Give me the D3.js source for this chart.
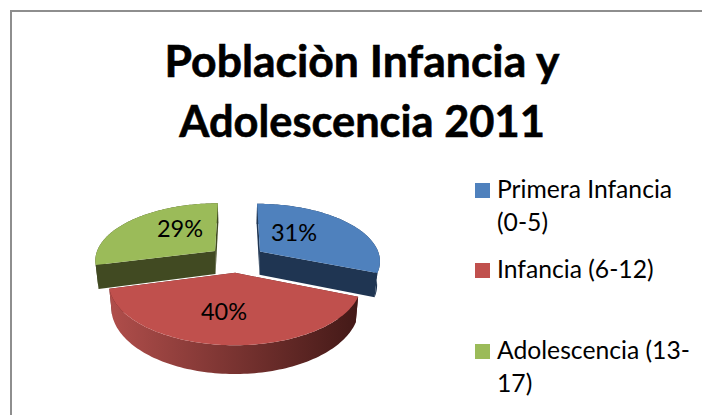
<!DOCTYPE html>
<html>
<head>
<meta charset="utf-8">
<script src="https://cdnjs.cloudflare.com/ajax/libs/d3/7.8.5/d3.min.js"></script>
<style>
html,body{margin:0;padding:0;background:#fff;overflow:hidden}
text{font-family:Lato,"Open Sans",sans-serif;fill:#000}
</style>
</head>
<body>
<svg id="chart" width="702" height="415"></svg>
<script>
var categories = ["Primera Infancia (0-5)", "Infancia (6-12)", "Adolescencia (13-17)"];
var values = [31, 40, 29];
var legendLines = [["Primera Infancia", "(0-5)"], ["Infancia (6-12)"], ["Adolescencia (13-", "17)"]];
var titleLines = ["Poblaciòn Infancia y", "Adolescencia 2011"];

var topColors = ["#4f81bd", "#c0504d", "#9bbb59"];
var sideColors = ["#1f3552", "#5f2220", "#414a22"];
var wallFrom = ["#1f3552", "#b04e4b", "#414a22"];
var wallTo = ["#1f3552", "#431917", "#414a22"];

var svg = d3.select("#chart");

// chart frame, runs off the right and bottom of the picture
svg.append("rect").attr("x", 11).attr("y", 11).attr("width", 720).attr("height", 440)
  .attr("fill", "#fff").attr("stroke", "#8e8e8e").attr("stroke-width", 2);

// title, second line is a bit narrower in the original
var titleSize = [44.5, 43.4];
svg.selectAll(".title").data(titleLines).enter().append("text")
  .attr("class", "title")
  .attr("x", 362)
  .attr("y", function (d, i) { return 77 + i * 60; })
  .attr("text-anchor", "middle")
  .attr("font-size", function (d, i) { return titleSize[i]; })
  .attr("font-weight", 700)
  .attr("stroke", "#000")
  .attr("stroke-width", 0.6)
  .text(function (d) { return d; });

// 3D pie: unit disc seen in perspective
var cx = 237, cy = 259, A = 120.5, B = 57, D = 23.5, k = 0.149, explode = 0.235;

function project(X, Y, z) {
  var s = 1 / (1 - k * Y);
  return [cx + A * X * s * (1 - 0.02 * z), cy + (B * Y + D * z) * s];
}

var arcs = d3.pie().sort(null)(values);
var line = d3.line();
var defs = svg.append("defs");

function slicePoint(d, t, r, z) {
  var mid = (d.startAngle + d.endAngle) / 2;
  var a = d.startAngle + (d.endAngle - d.startAngle) * t;
  return project(explode * Math.sin(mid) + r * Math.sin(a),
                 -explode * Math.cos(mid) - r * Math.cos(a), z);
}

var steps = d3.range(0, 1.0001, 0.01);

// back to front: green, blue, red
[2, 0, 1].forEach(function (i) {
  var d = arcs[i];
  var g = svg.append("g").attr("class", "slice");
  var topArc = steps.map(function (t) { return slicePoint(d, t, 1, 0); });
  var botArc = steps.map(function (t) { return slicePoint(d, t, 1, 1); });
  var apexTop = slicePoint(d, 0, 0, 0), apexBot = slicePoint(d, 0, 0, 1);

  // radial cut faces
  g.append("path").attr("fill", sideColors[i])
    .attr("d", line([apexTop, topArc[0], botArc[0], apexBot]) + "Z");
  g.append("path").attr("fill", sideColors[i])
    .attr("d", line([apexTop, topArc[100], botArc[100], apexBot]) + "Z");

  // outer wall
  var grad = defs.append("linearGradient").attr("id", "wall" + i)
    .attr("gradientUnits", "userSpaceOnUse")
    .attr("x1", d3.min(topArc, function (p) { return p[0]; })).attr("y1", 0)
    .attr("x2", d3.max(topArc, function (p) { return p[0]; })).attr("y2", 0);
  grad.append("stop").attr("offset", 0).attr("stop-color", wallFrom[i]);
  grad.append("stop").attr("offset", 1).attr("stop-color", wallTo[i]);
  g.append("path").attr("fill", "url(#wall" + i + ")")
    .attr("d", line(topArc.concat(botArc.slice().reverse())) + "Z");

  // top face
  g.append("path").attr("fill", topColors[i])
    .attr("d", line([apexTop].concat(topArc)) + "Z");
});

// data labels
var labelX = [294, 224, 180], labelY = [241, 320, 237];
svg.selectAll(".pct").data(arcs).enter().append("text")
  .attr("class", "pct")
  .attr("x", function (d, i) { return labelX[i]; })
  .attr("y", function (d, i) { return labelY[i]; })
  .attr("text-anchor", "middle")
  .attr("font-size", 23.5)
  .text(function (d) { return d3.format(".0f")(d.value / d3.sum(values) * 100) + "%"; });

// legend
var legendY = d3.scaleOrdinal().domain(categories).range([183, 263, 344]);
var legend = svg.selectAll(".legend").data(categories).enter().append("g")
  .attr("class", "legend")
  .attr("transform", function (d) { return "translate(475," + legendY(d) + ")"; });
legend.append("rect").attr("width", 15).attr("height", 15)
  .attr("fill", function (d, i) { return topColors[i]; });
legend.each(function (d, i) {
  d3.select(this).selectAll("text").data(legendLines[i]).enter().append("text")
    .attr("x", 22)
    .attr("y", function (t, j) { return 15 + j * 33; })
    .attr("font-size", 24.7)
    .text(function (t) { return t; });
});
</script>
</body>
</html>
